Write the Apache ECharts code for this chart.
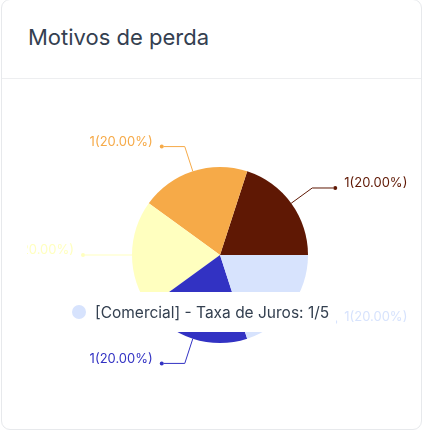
<!DOCTYPE html>
<html><head><meta charset="utf-8">
<script src="https://cdn.jsdelivr.net/npm/echarts@6/dist/echarts.min.js"></script>
<style>
html,body{margin:0;padding:0;background:#fff;width:424px;height:430px;overflow:hidden;font-family:Inter,sans-serif;}
.card{position:absolute;left:1px;top:-1px;width:421px;height:431px;border:1px solid #e7e9ec;border-radius:9px;box-sizing:border-box;background:#fff;}
.header{position:absolute;left:0;top:0;width:100%;height:79px;border-bottom:1px solid #edeef0;box-sizing:border-box;}
.title{position:absolute;left:26px;top:24px;font-size:22px;line-height:26px;color:#344050;font-weight:400;white-space:nowrap;}
.wrap{position:absolute;left:27px;top:79px;width:393px;height:349px;overflow:hidden;}
#chart{position:absolute;left:-27px;top:0;width:424px;height:349px;}
</style></head>
<body>
<div class="card"><div class="header"><div class="title">Motivos de perda</div></div></div>
<div class="wrap"><div id="chart"></div></div>
<script>
const categories = ['[Comercial] - Preço', '[Comercial] - Prazo', '[Produto] - Funcionalidade', '[Cliente] - Desistência', '[Comercial] - Taxa de Juros'];
const values = [1, 1, 1, 1, 1];
const colors = ['#5f1804', '#f6aa48', '#ffffbf', '#3232c3', '#d7e3fd'];
const tooltipIndex = 4;

const total = values.reduce((a, b) => a + b, 0);
const startAngle = 0;
function isLeftSide(i) {
  let cum = 0;
  for (let k = 0; k < i; k++) cum += values[k];
  const mid = (startAngle + (cum + values[i] / 2) / total * 360) * Math.PI / 180;
  return Math.cos(mid) < 0;
}
const data = categories.map((name, i) => ({
  name: name,
  value: values[i],
  itemStyle: { color: colors[i] },
  labelLine: { lineStyle: { color: colors[i] } },
  label: {
    color: colors[i],
    rich: {
      d: { width: 4, height: 4, borderRadius: 2, backgroundColor: colors[i] },
      tl: { color: colors[i], fontSize: 13, fontFamily: 'Inter', padding: [0, 7, 9, 0] },
      tr: { color: colors[i], fontSize: 13, fontFamily: 'Inter', padding: [0, 0, 9, 7] }
    }
  }
}));

const chart = echarts.init(document.getElementById('chart'), null, { renderer: 'canvas' });
chart.setOption({
  animation: false,
  tooltip: {
    trigger: 'item',
    triggerOn: 'none',
    alwaysShowContent: true,
    position: [58, 213],
    transitionDuration: 0,
    padding: 0,
    borderWidth: 0,
    backgroundColor: '#fff',
    shadowBlur: 0,
    shadowColor: 'transparent',
    extraCssText: 'box-shadow:none;border-radius:0;',
    formatter: function (p) {
      return '<div style="width:278px;height:40px;box-sizing:border-box;padding-left:14px;display:flex;align-items:center;font-family:Inter;font-size:15.5px;color:#344050;white-space:nowrap;">' +
        '<span style="display:inline-block;width:14px;height:14px;border-radius:7px;background:' + p.color + ';margin-right:9px;"></span>' +
        p.name + ': ' + p.value + '/' + total + '</div>';
    }
  },
  series: [{
    type: 'pie',
    center: [220, 176],
    radius: 88,
    startAngle: startAngle,
    clockwise: false,
    avoidLabelOverlap: false,
    emphasis: { scale: false },
    label: {
      show: true,
      position: 'outside',
      overflow: 'none',
      distanceToLabelLine: 0,
      formatter: function (p) {
        const t = p.value + '(' + p.percent.toFixed(2) + '%)';
        return isLeftSide(p.dataIndex) ? '{tl|' + t + '}{d|}' : '{d|}{tr|' + t + '}';
      }
    },
    labelLine: { show: true, length: 26, length2: 21, lineStyle: { width: 1 } },
    data: data
  }]
});
chart.dispatchAction({ type: 'showTip', seriesIndex: 0, dataIndex: tooltipIndex });
</script>
</body></html>
